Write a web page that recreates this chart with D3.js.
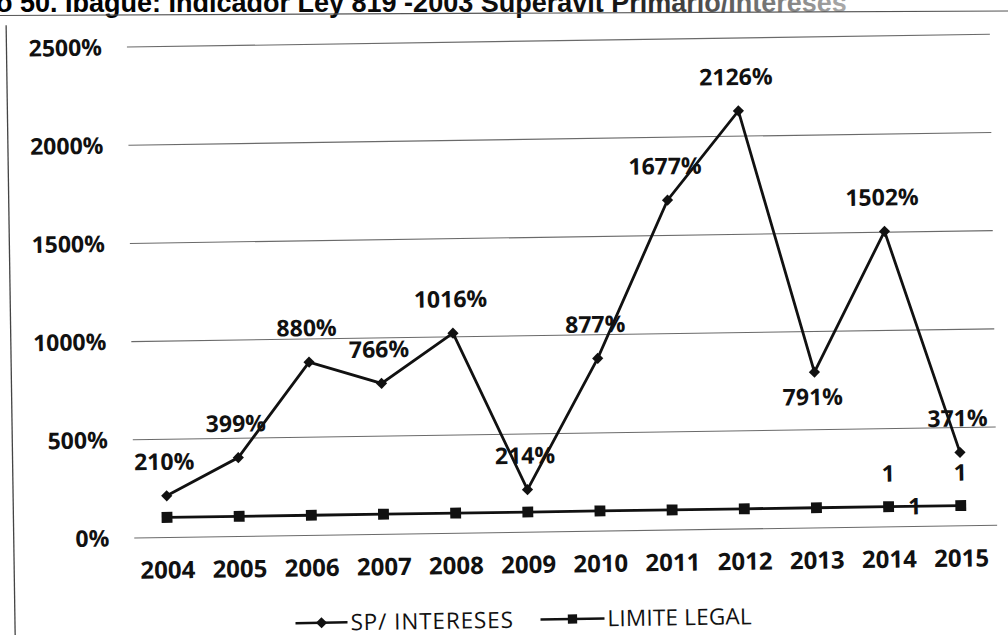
<!DOCTYPE html>
<html>
<head>
<meta charset="utf-8">
<script src="https://cdn.jsdelivr.net/npm/d3@7/dist/d3.min.js"></script>
<style>
  html, body { margin: 0; padding: 0; background: #fff; }
  svg { display: block; }
</style>
</head>
<body>
<svg id="chart" width="1008" height="635"></svg>
<script>
// ---- data ----
const titleText = "o 50. Ibagué: Indicador Ley 819 -2003 Superávit Primario/Intereses";
const years = ["2004","2005","2006","2007","2008","2009","2010","2011","2012","2013","2014","2015"];
const spIntereses = [2.10, 3.99, 8.80, 7.66, 10.16, 2.14, 8.77, 16.77, 21.26, 7.91, 15.02, 3.71];
const limiteLegal = [1, 1, 1, 1, 1, 1, 1, 1, 1, 1, 1, 1];
const spLabelSide = ["above","above","above","above","above","above","above","above","above","below","above","above"];
const limitLabelYears = ["2014", "2015", "2014"];
const limitLabelSide = ["above", "above", "right"];
const yTicks = [0, 5, 10, 15, 20, 25];
const seriesNames = ["SP/ INTERESES", "LIMITE LEGAL"];

// ---- layout ----
const svg = d3.select("#chart");
const W = 1008, H = 635;
const FONT = "'Open Sans', 'Noto Sans', sans-serif";

// title (top clipped as in the scan)
const grad = svg.append("defs").append("linearGradient")
  .attr("id", "tfade").attr("x1", "0").attr("x2", "1").attr("y1", "0").attr("y2", "0");
grad.append("stop").attr("offset", "0%").attr("stop-color", "#000");
grad.append("stop").attr("offset", "72%").attr("stop-color", "#111");
grad.append("stop").attr("offset", "100%").attr("stop-color", "#aaa");

svg.append("text")
  .attr("x", -4).attr("y", 12)
  .attr("font-family", "'Liberation Sans', Arial, sans-serif")
  .attr("font-weight", "bold").attr("font-size", 27)
  .attr("fill", "url(#tfade)")
  .text(titleText);

svg.append("line")
  .attr("x1", 0).attr("y1", 15.5).attr("x2", W).attr("y2", 11)
  .attr("stroke", "#555").attr("stroke-width", 1.2);

const g = svg.append("g").attr("transform", "rotate(-0.85, 504, 317)");

// left border of the chart frame
g.append("line")
  .attr("x1", 10.5).attr("y1", 18).attr("x2", 10.5).attr("y2", H + 10)
  .attr("stroke", "#444").attr("stroke-width", 1.3);

const x = d3.scaleBand().domain(years).range([128, 994]).padding(0);
const cx = d => x(d) + x.bandwidth() / 2;
const y = d3.scaleLinear().domain([0, 25]).range([532, 41]);
const pct = d3.format(".0%");

// gridlines + y axis labels
const yAxis = d3.axisLeft(y).tickValues(yTicks)
  .tickSize(-(994 - 131)).tickPadding(22)
  .tickFormat(d => pct(d / 1));
const yAx = g.append("g").attr("transform", "translate(131,0)").call(yAxis);
yAx.select(".domain").remove();
yAx.selectAll(".tick line").attr("stroke", "#6a6a6a").attr("stroke-width", 1.1);
yAx.selectAll(".tick text")
  .attr("font-family", FONT).attr("font-weight", "bold").attr("font-size", 23)
  .attr("fill", "#111").attr("dy", "0.35em").attr("x", -25);

// x axis labels
const xAxis = d3.axisBottom(x).tickSize(0).tickPadding(0);
const xAx = g.append("g").attr("transform", "translate(0,532)").call(xAxis);
xAx.select(".domain").remove();
xAx.selectAll(".tick text")
  .attr("font-family", FONT).attr("font-weight", "bold").attr("font-size", 24)
  .attr("fill", "#111").attr("y", 33).attr("dy", "0.35em");

// lines
const lineGen = vals => d3.line().x((d, i) => cx(years[i])).y(d => y(d))(vals);
g.append("path").attr("d", lineGen(limiteLegal))
  .attr("fill", "none").attr("stroke", "#111").attr("stroke-width", 2.8);
g.append("path").attr("d", lineGen(spIntereses))
  .attr("fill", "none").attr("stroke", "#111").attr("stroke-width", 2.8);

// markers
const diamond = d3.symbol().type(d3.symbolDiamond2).size(80);
const square = d3.symbol().type(d3.symbolSquare2).size(150);
g.selectAll(".sq").data(limiteLegal).join("path")
  .attr("class", "sq")
  .attr("transform", (d, i) => `translate(${cx(years[i])},${y(d)})`)
  .attr("d", square).attr("fill", "#111");
g.selectAll(".dm").data(spIntereses).join("path")
  .attr("class", "dm")
  .attr("transform", (d, i) => `translate(${cx(years[i])},${y(d)})`)
  .attr("d", diamond).attr("fill", "#111");

// data labels SP
g.selectAll(".spl").data(spIntereses).join("text")
  .attr("class", "spl")
  .attr("x", (d, i) => cx(years[i]) - 2)
  .attr("y", (d, i) => y(d) + (spLabelSide[i] === "below" ? 25 : -34))
  .attr("dy", "0.35em").attr("text-anchor", "middle")
  .attr("font-family", FONT).attr("font-weight", "bold").attr("font-size", 23)
  .attr("fill", "#111")
  .text(d => pct(d));

// data labels LIMITE LEGAL
g.selectAll(".lll").data(limitLabelYears).join("text")
  .attr("class", "lll")
  .attr("x", (d, i) => cx(d) + (limitLabelSide[i] === "right" ? 26 : 0))
  .attr("y", (d, i) => y(limiteLegal[years.indexOf(d)]) + (limitLabelSide[i] === "above" ? -33 : 0))
  .attr("dy", "0.35em").attr("text-anchor", "middle")
  .attr("font-family", FONT).attr("font-weight", "bold").attr("font-size", 23)
  .attr("fill", "#111")
  .text(d => String(limiteLegal[years.indexOf(d)]));

// legend
const legY = 620;
const legItems = [
  { name: seriesNames[0], x0: 291, x1: 343, sym: diamond, tx: 346, ls: 0.9 },
  { name: seriesNames[1], x0: 536, x1: 600, sym: d3.symbol().type(d3.symbolSquare2).size(110), tx: 603, ls: 0.2 }
];
legItems.forEach(it => {
  g.append("line").attr("x1", it.x0).attr("x2", it.x1).attr("y1", legY).attr("y2", legY)
    .attr("stroke", "#111").attr("stroke-width", 2.5);
  g.append("path").attr("d", it.sym)
    .attr("transform", `translate(${(it.x0 + it.x1) / 2},${legY})`).attr("fill", "#111");
  g.append("text").attr("x", it.tx).attr("y", legY).attr("dy", "0.35em")
    .attr("font-family", FONT).attr("font-size", 22.5).attr("letter-spacing", it.ls)
    .attr("fill", "#111")
    .text(it.name);
});
</script>
</body>
</html>
